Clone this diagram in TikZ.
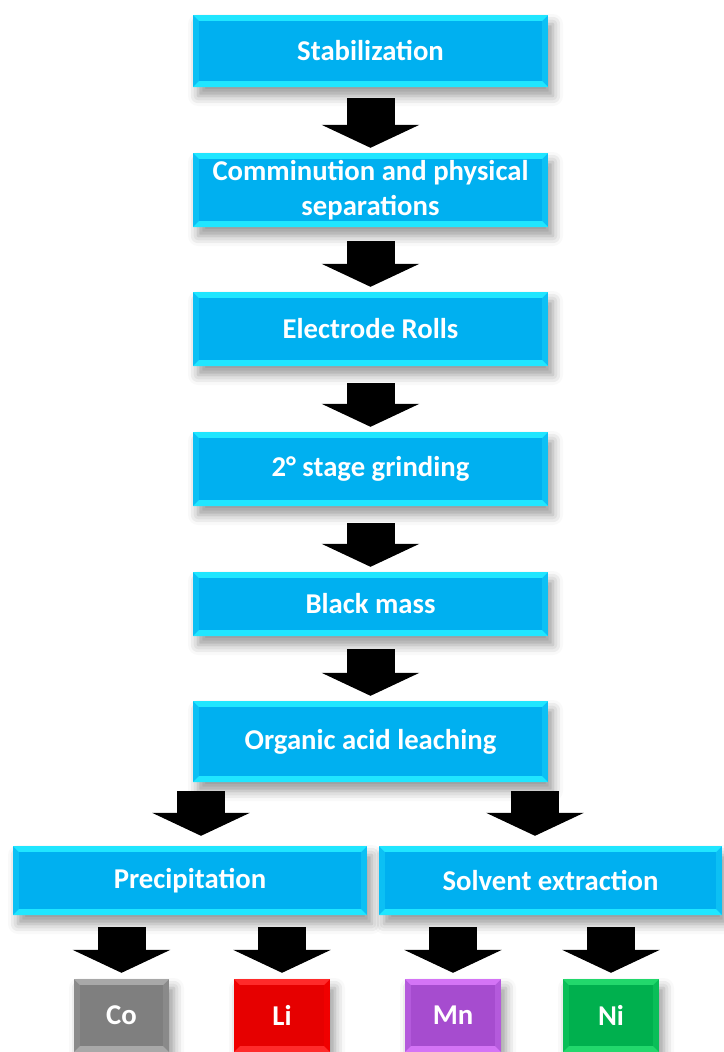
\documentclass[tikz,border=0pt]{standalone}
\usepackage{fontspec}
\setmainfont{Carlito}
\usetikzlibrary{arrows.meta,shadows.blur}
\definecolor{cyanmain}{HTML}{00B0F0}
\definecolor{cyanside}{HTML}{0CC0F4}
\definecolor{cyanlight}{HTML}{20E6FF}
\definecolor{comain}{HTML}{7F7F7F}
\definecolor{coside}{HTML}{8A8A8A}
\definecolor{colight}{HTML}{A8A8A8}
\definecolor{limain}{HTML}{E60000}
\definecolor{liside}{HTML}{F00000}
\definecolor{lilight}{HTML}{FF2A2A}
\definecolor{mnmain}{HTML}{A64CCF}
\definecolor{mnside}{HTML}{B45ADC}
\definecolor{mnlight}{HTML}{D474F6}
\definecolor{nimain}{HTML}{00B04E}
\definecolor{niside}{HTML}{0ABE58}
\definecolor{nilight}{HTML}{22D86C}

\begin{document}
\begin{tikzpicture}[x=1pt,y=-1pt,
	stagebox/.style={inner sep=0pt, text=white, align=center,
		font=\fontsize{28.7}{35}\selectfont\bfseries, fill=#1side,
		blur shadow={shadow xshift=5pt, shadow yshift=-9pt, shadow blur radius=10pt, shadow opacity=40},
		path picture={
			\fill[#1light] (path picture bounding box.north west) -- (path picture bounding box.north east)
				-- ([shift={(-6pt,-6pt)}]path picture bounding box.north east) -- ([shift={(6pt,-6pt)}]path picture bounding box.north west) -- cycle;
			\fill[#1light] (path picture bounding box.south west) -- (path picture bounding box.south east)
				-- ([shift={(-6pt,6pt)}]path picture bounding box.south east) -- ([shift={(6pt,6pt)}]path picture bounding box.south west) -- cycle;
			\fill[#1main] ([shift={(6pt,-6pt)}]path picture bounding box.north west) rectangle ([shift={(-6pt,6pt)}]path picture bounding box.south east);
		}},
	bigarrow/.style={line width=48pt, -{Triangle[width=97pt,length=23pt]}, shorten <=#1, shorten >=5pt},
	bigarrow/.default=14pt
]
	\useasboundingbox (0,0) rectangle (723,1052);
	\node [stagebox=cyan, minimum width=355pt, minimum height=72pt] (stab) at (370.5,51) {Stabilization};
	\node [stagebox=cyan, minimum width=355pt, minimum height=74pt] (comm) at (370.5,190) {Comminution and physical\\separations};
	\node [stagebox=cyan, minimum width=355pt, minimum height=74pt] (elec) at (370.5,329) {Electrode Rolls};
	\node [stagebox=cyan, minimum width=355pt, minimum height=74pt] (grind) at (370.5,469) {2° stage grinding};
	\node [stagebox=cyan, minimum width=355pt, minimum height=64pt] (bmass) at (370.5,604) {Black mass};
	\node [stagebox=cyan, minimum width=355pt, minimum height=81pt] (leach) at (370.5,741.5) {Organic acid leaching};
	\node [stagebox=cyan, minimum width=354pt, minimum height=69pt] (precip) at (190,880.5) {Precipitation};
	\node [stagebox=cyan, minimum width=343pt, minimum height=69pt] (solvx) at (550.5,880.5) {Solvent extraction};
	\node [stagebox=co, minimum width=95pt, minimum height=73pt] (co) at (121.5,1015.5) {Co};
	\node [stagebox=li, minimum width=96pt, minimum height=73pt] (li) at (282,1015.5) {Li};
	\node [stagebox=mn, minimum width=96pt, minimum height=73pt] (mn) at (453,1015.5) {Mn};
	\node [stagebox=ni, minimum width=96pt, minimum height=73pt] (ni) at (611,1015.5) {Ni};
	\draw [bigarrow=11pt] (stab) -- (comm);
	\draw [bigarrow] (comm) -- (elec);
	\draw [bigarrow=17pt] (elec) -- (grind);
	\draw [bigarrow=17pt] (grind) -- (bmass);
	\draw [bigarrow=13pt] (bmass) -- (leach);
	\draw [bigarrow=9pt, shorten >=10pt] (leach.south -| 201,0) -- (precip.north -| 201,0);
	\draw [bigarrow=9pt, shorten >=10pt] (leach.south -| 535,0) -- (solvx.north -| 535,0);
	\draw [bigarrow=12pt, shorten >=6pt] (precip.south -| co.north) -- (co);
	\draw [bigarrow=12pt, shorten >=6pt] (precip.south -| li.north) -- (li);
	\draw [bigarrow=12pt, shorten >=6pt] (solvx.south -| mn.north) -- (mn);
	\draw [bigarrow=12pt, shorten >=6pt] (solvx.south -| ni.north) -- (ni);
\end{tikzpicture}
\end{document}
